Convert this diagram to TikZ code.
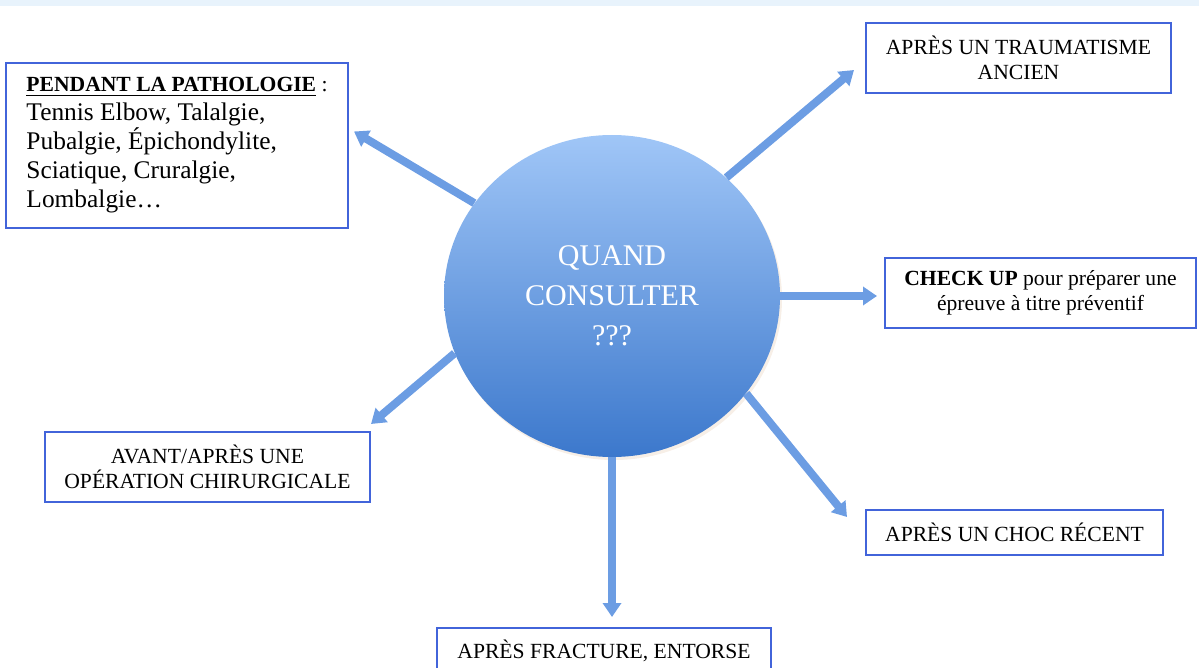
\documentclass[tikz,border=0pt]{standalone}
\usepackage{fontspec}
\setmainfont{Liberation Serif}
\usetikzlibrary{shapes.geometric,arrows.meta,shadows}

\definecolor{cadre}{RGB}{66,100,218}
\definecolor{bleuFleche}{RGB}{108,157,227}
\definecolor{bulleHaut}{RGB}{160,198,247}
\definecolor{bulleBas}{RGB}{60,120,204}
\definecolor{bandeau}{RGB}{232,243,252}

\tikzset{
  boite/.style={draw=cadre, line width=1pt, fill=white, align=center, inner sep=0pt,
    font=\fontsize{10.8}{12.5}\selectfont},
  bulle/.style={ellipse, inner sep=0pt, minimum width=168pt, minimum height=161pt,
    top color=bulleHaut, bottom color=bulleBas,
    text=white, align=center, font=\fontsize{15}{20}\selectfont,
    drop shadow={opacity=0.25, fill=brown!50, shadow xshift=1pt, shadow yshift=-1.5pt}},
  versBoite/.style={draw=bleuFleche, line width=4pt, -{Triangle[width=9pt,length=7pt]}}
}

\begin{document}
\begin{tikzpicture}[x=0.5pt,y=-0.5pt]
\clip (0,0) rectangle (1199,668);
\fill[bandeau] (0,0) rectangle (1199,6);

\node[bulle] (quand) at (612,296) {QUAND\\CONSULTER\\???};

\node[boite, anchor=north west, align=left, minimum width=171pt, minimum height=82.5pt,
  font=\fontsize{12.7}{14.5}\selectfont] (patho) at (5,62)
  {{\fontsize{10.8}{14.5}\selectfont\textbf{\underline{PENDANT LA PATHOLOGIE}} :}\\Tennis Elbow, Talalgie,\\Pubalgie, Épichondylite,\\Sciatique, Cruralgie,\\Lombalgie…};
\node[boite, minimum width=152.5pt, minimum height=35pt] (trauma) at (1018.5,58) {APRÈS UN TRAUMATISME\\ANCIEN};
\node[boite, minimum width=155.5pt, minimum height=35pt] (check) at (1040.5,293) {\textbf{CHECK UP} pour préparer une\\épreuve à titre préventif};
\node[boite, minimum width=162.5pt, minimum height=35pt] (avant) at (207.5,467) {AVANT/APRÈS UNE\\OPÉRATION CHIRURGICALE};
\node[boite, minimum width=148.5pt, minimum height=22.5pt] (choc) at (1014.5,532.5) {APRÈS UN CHOC RÉCENT};
\node[boite, minimum width=167pt, minimum height=22.5pt] (fracture) at (604,650.5) {APRÈS FRACTURE, ENTORSE};

\draw[versBoite] (quand.146) -- ([shift={(5,-14)}]patho.east);
\draw[versBoite] (quand.46) -- ([shift={(-11,12)}]trauma.west);
\draw[versBoite,shorten >=3.5pt] (quand.0) -- (quand.0 -| check.west);
\draw[versBoite] (quand.200) -- ([shift={(0,-7)}]avant.north east);
\draw[versBoite,shorten >=5pt] (quand.south) -- (quand.south |- fracture.north);
\draw[versBoite] (quand.324) -- ([shift={(-18,8)}]choc.north west);
\end{tikzpicture}
\end{document}
